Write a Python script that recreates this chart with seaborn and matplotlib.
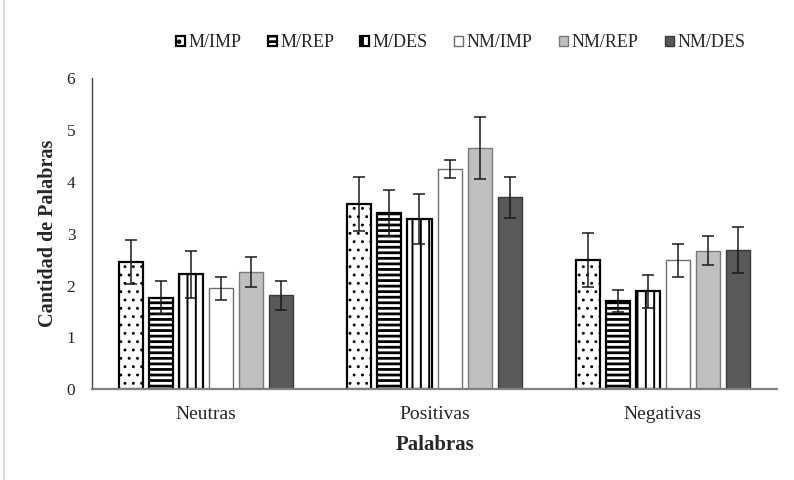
import pandas as pd
import matplotlib
matplotlib.use('Agg')
import matplotlib.pyplot as plt
import seaborn as sns

categorias = ['Neutras', 'Positivas', 'Negativas']
grupos = ['M/IMP', 'M/REP', 'M/DES', 'NM/IMP', 'NM/REP', 'NM/DES']

medias = {
    'M/IMP':  [2.45, 3.57, 2.50],
    'M/REP':  [1.77, 3.40, 1.71],
    'M/DES':  [2.22, 3.28, 1.89],
    'NM/IMP': [1.95, 4.25, 2.49],
    'NM/REP': [2.27, 4.66, 2.67],
    'NM/DES': [1.81, 3.70, 2.69],
}
errores = {
    'M/IMP':  [0.42, 0.52, 0.52],
    'M/REP':  [0.32, 0.45, 0.21],
    'M/DES':  [0.45, 0.48, 0.32],
    'NM/IMP': [0.22, 0.18, 0.32],
    'NM/REP': [0.29, 0.60, 0.28],
    'NM/DES': [0.28, 0.39, 0.44],
}

rows = []
for g in grupos:
    for c, v in zip(categorias, medias[g]):
        rows.append({'Palabras': c, 'grupo': g, 'valor': v})
df = pd.DataFrame(rows)

sns.set_style('white')
plt.rcParams['font.family'] = ['Liberation Serif', 'DejaVu Serif']
plt.rcParams['hatch.linewidth'] = 2.0

# estilo de cada serie: relleno, trama, borde, grosor, grosor de trama
estilos = {
    'M/IMP':  ('white', '..', 'black', 1.6, 0.9),
    'M/REP':  ('white', '---', 'black', 1.6, 2.0),
    'M/DES':  ('white', '||', 'black', 1.6, 1.4),
    'NM/IMP': ('white', '', '#6e6e6e', 1.0, 1.0),
    'NM/REP': ('#bfbfbf', '', '#7a7a7a', 1.0, 1.0),
    'NM/DES': ('#595959', '', '#3a3a3a', 1.0, 1.0),
}

fig = plt.figure(figsize=(7.94, 4.8), dpi=100)
ax = fig.add_axes([0.1159, 0.189, 0.8627, 0.648])

sns.barplot(data=df, x='Palabras', y='valor', hue='grupo', hue_order=grupos,
            order=categorias, errorbar=None, width=0.79, gap=0.2,
            legend=False, ax=ax)

barras = list(ax.containers)
for g, cont in zip(grupos, barras):
    fc, hatch, ec, lw, hlw = estilos[g]
    for j, p in enumerate(cont):
        p.set_facecolor(fc)
        p.set_edgecolor(ec)
        p.set_linewidth(lw)
        p.set_hatch(hatch)
        if hasattr(p, 'set_hatch_linewidth'):
            p.set_hatch_linewidth(hlw)
        x = p.get_x() + p.get_width() / 2
        ax.errorbar(x, p.get_height(), yerr=errores[g][j], color='#1a1a1a',
                    elinewidth=1.1, capsize=4, capthick=1.1, zorder=5)

ax.set_xlim(-0.5, 2.5)
ax.set_ylim(0, 6)
ax.set_yticks(range(0, 7))
ax.set_xticks([-0.5, 0.5, 1.5, 2.5], minor=True)
ax.tick_params(axis='y', direction='in', length=5, width=1, color='#404040',
               labelsize=12.5, pad=12)
ax.tick_params(axis='x', which='major', length=0, labelsize=14, pad=12)
ax.tick_params(axis='x', which='minor', direction='in', length=5, width=1,
               color='#808080')

for s in ['top', 'right']:
    ax.spines[s].set_visible(False)
ax.spines['left'].set_color('#404040')
ax.spines['left'].set_linewidth(1.0)
ax.spines['bottom'].set_color('#808080')
ax.spines['bottom'].set_linewidth(1.6)

ax.set_ylabel('Cantidad de Palabras', fontsize=14.5, fontweight='bold', labelpad=6)
ax.set_xlabel('Palabras', fontsize=15, fontweight='bold', labelpad=9)

fig.legend(handles=barras, labels=grupos, loc='center', ncol=6,
           bbox_to_anchor=(0.580, 0.911), frameon=False, fontsize=13,
           handlelength=0.5, handleheight=0.5, handletextpad=0.2,
           columnspacing=1.45)

fig.add_artist(plt.Line2D([0.005, 0.005], [0, 1], color='#d9d9d9', lw=1.5,
                          transform=fig.transFigure))

fig.savefig('out.png', dpi=100)
